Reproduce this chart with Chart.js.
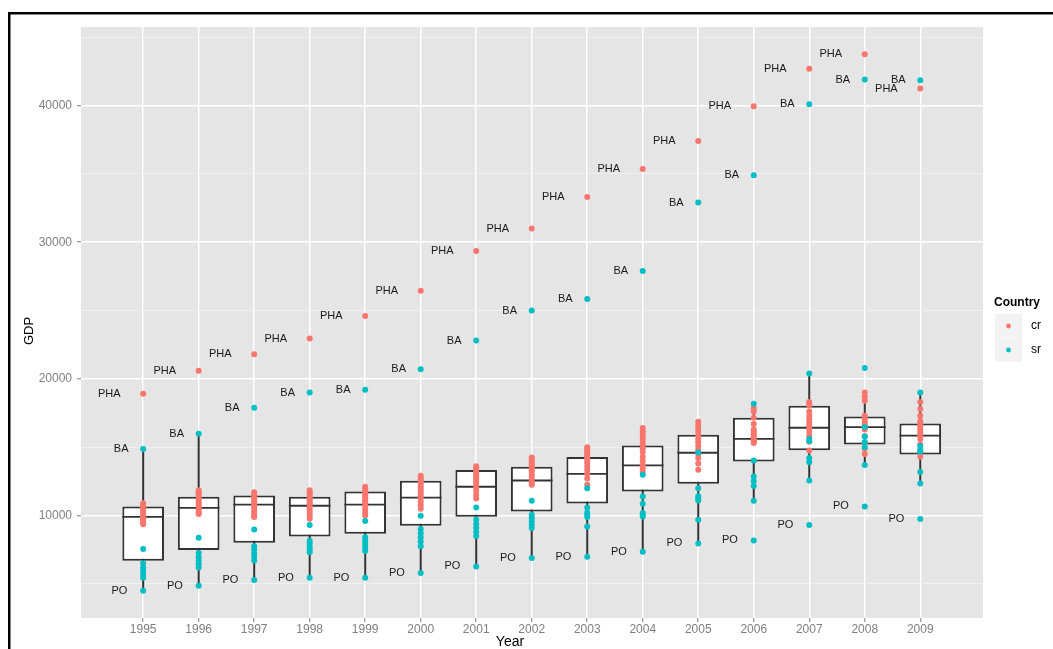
<!DOCTYPE html>
<html>
  <head>
    <meta charset="utf-8" />
    <title>GDP by region</title>
    <script src="https://cdn.jsdelivr.net/npm/chart.js"></script>
    <style>
      body {
        margin: 0;
        background: #ffffff;
      }
      #wrap {
        width: 1053px;
        height: 649px;
      }
    </style>
  </head>
  <body>
    <div id="wrap">
      <canvas id="gdpchart" width="1053" height="649"></canvas>
    </div>

    <script type="text/javascript">
      // ---------------------------------------------
      // data
      const years = [1995, 1996, 1997, 1998, 1999, 2000, 2001, 2002, 2003, 2004, 2005, 2006, 2007, 2008, 2009];

      // labelled regions
      const phaGDP = [18900, 20600, 21800, 22950, 24600, 26450, 29350, 31000, 33300, 35350, 37400, 39950, 42700, 43750, 41250];
      const baGDP = [14860, 15980, 17880, 19000, 19200, 20700, 22800, 25000, 25850, 27900, 32900, 34900, 40100, 41900, 41850];
      const poGDP = [4490, 4860, 5270, 5440, 5440, 5790, 6270, 6880, 6980, 7350, 7950, 8170, 9300, 10660, 9740];

      // other cr regions (13 per year)
      const crOther = [
        [10900, 10750, 10600, 10450, 10300, 10150, 10000, 9900, 9800, 9700, 9600, 9450, 9350],
        [11850, 11700, 11550, 11400, 11250, 11100, 10950, 10800, 10650, 10500, 10350, 10200, 10100],
        [11700, 11550, 11400, 11250, 11100, 10950, 10800, 10650, 10500, 10300, 10100, 9950, 9880],
        [11850, 11700, 11550, 11400, 11250, 11100, 10950, 10800, 10600, 10400, 10200, 10000, 9750],
        [12100, 11950, 11800, 11650, 11500, 11350, 11200, 11050, 10900, 10700, 10450, 10200, 10000],
        [12900, 12750, 12600, 12450, 12300, 12100, 11900, 11700, 11500, 11300, 11000, 10750, 10500],
        [13600, 13450, 13300, 13150, 13000, 12850, 12700, 12500, 12300, 12050, 11800, 11500, 11250],
        [14250, 14100, 13950, 13800, 13650, 13500, 13350, 13200, 13000, 12800, 12600, 12400, 12250],
        [15000, 14850, 14700, 14550, 14400, 14250, 14050, 13850, 13600, 13350, 13050, 12700, 12250],
        [16400, 16150, 15900, 15650, 15400, 15150, 14900, 14650, 14300, 14000, 13700, 13450, 13200],
        [16850, 16600, 16350, 16100, 15850, 15600, 15350, 15100, 14800, 14500, 14200, 13800, 13350],
        [17850, 17600, 17150, 16700, 16300, 16100, 15950, 15800, 15700, 15600, 15500, 15400, 15300],
        [18300, 18200, 18050, 17600, 17300, 17050, 16800, 16600, 16400, 16100, 15800, 15400, 14750],
        [19000, 18700, 18400, 17300, 17100, 16900, 16700, 16500, 16300, 15800, 15300, 14900, 14500],
        [18300, 17800, 17300, 16900, 16700, 16500, 16300, 16100, 15900, 15600, 15200, 14700, 14300],
      ];

      // other sr regions (6 per year)
      const srOther = [
        [7540, 6500, 6200, 5950, 5700, 5450],
        [8370, 7250, 6950, 6700, 6450, 6200],
        [8980, 7750, 7500, 7250, 7000, 6700],
        [9300, 8150, 7950, 7700, 7500, 7300],
        [9590, 8400, 8150, 7900, 7650, 7400],
        [9980, 9000, 8700, 8400, 8100, 7750],
        [10590, 9700, 9400, 9100, 8800, 8500],
        [11080, 10050, 9800, 9550, 9300, 9080],
        [12000, 10590, 10220, 10050, 9880, 9200],
        [12980, 11390, 10860, 10180, 10050, 9930],
        [14610, 12000, 11400, 11250, 11100, 9690],
        [18170, 14020, 12850, 12500, 12150, 11075],
        [20390, 15590, 15450, 14200, 13900, 12560],
        [20800, 16470, 15780, 15370, 15000, 13690],
        [19000, 15080, 14800, 14660, 13180, 12340],
      ];

      // box plot statistics
      const boxQ1 = [6690, 7470, 8000, 8460, 8660, 9250, 9900, 10290, 10880, 11760, 12320, 13950, 14780, 15190, 14460];
      const boxMedian = [9900, 10560, 10800, 10710, 10800, 11300, 12100, 12560, 13050, 13660, 14590, 15610, 16420, 16470, 15850];
      const boxQ3 = [10660, 11370, 11460, 11370, 11760, 12540, 13320, 13560, 14270, 15120, 15900, 17150, 18030, 17240, 16730];
      const whiskerLow = [4490, 4860, 5270, 5440, 5440, 5790, 6270, 6880, 6980, 7350, 7950, 11075, 12560, 13690, 12340];
      const whiskerHigh = [14860, 15980, 11700, 11880, 12100, 12900, 13600, 14250, 15000, 16400, 16850, 18170, 20390, 19000, 19000];

      const yTicks = [5000, 10000, 15000, 20000, 25000, 30000, 35000, 40000, 45000];

      const crColor = "#F8766D";
      const srColor = "#00BFC4";
      const fontFam = "'Liberation Sans', Arial, sans-serif";

      // ---------------------------------------------
      // build datasets
      var crPoints = [];
      var srPoints = [];
      var boxes = [];
      var whiskers = [];
      years.forEach(function (yr, i) {
        crPoints.push({ x: yr, y: phaGDP[i] });
        crOther[i].forEach(function (v) {
          crPoints.push({ x: yr, y: v });
        });
        srPoints.push({ x: yr, y: baGDP[i] });
        srOther[i].forEach(function (v) {
          srPoints.push({ x: yr, y: v });
        });
        srPoints.push({ x: yr, y: poGDP[i] });
        boxes.push({ x: yr, y: [boxQ1[i], boxQ3[i]] });
        whiskers.push({ x: yr, y: whiskerLow[i] });
        whiskers.push({ x: yr, y: whiskerHigh[i] });
        whiskers.push({ x: yr, y: null });
      });

      // ---------------------------------------------
      // grey panel + frame round the picture
      const panelPlugin = {
        id: "panel",
        beforeDraw(chart) {
          const ctx = chart.ctx;
          const a = chart.chartArea;
          ctx.save();
          ctx.fillStyle = "#ffffff";
          ctx.fillRect(0, 0, chart.width, chart.height);
          ctx.fillStyle = "#000000";
          ctx.fillRect(8, 12, chart.width - 8, 2.5);
          ctx.fillRect(8, 12, 2.5, chart.height - 12);
          ctx.fillStyle = "#e5e5e5";
          ctx.fillRect(a.left, a.top, a.right - a.left, a.bottom - a.top);
          ctx.restore();
        },
      };

      // median line inside each box
      const medianPlugin = {
        id: "median",
        afterDatasetDraw(chart, args) {
          if (args.index !== 1) return;
          const ctx = chart.ctx;
          const ys = chart.scales.y;
          ctx.save();
          ctx.strokeStyle = "#333333";
          ctx.lineWidth = 1.8;
          args.meta.data.forEach(function (bar, i) {
            const py = ys.getPixelForValue(boxMedian[i]);
            ctx.beginPath();
            ctx.moveTo(bar.x - bar.width / 2, py);
            ctx.lineTo(bar.x + bar.width / 2, py);
            ctx.stroke();
          });
          ctx.restore();
        },
      };

      // PHA / BA / PO text beside the points
      const labelPlugin = {
        id: "regionLabels",
        afterDatasetsDraw(chart) {
          const ctx = chart.ctx;
          const xs = chart.scales.x;
          const ys = chart.scales.y;
          ctx.save();
          ctx.font = "11px " + fontFam;
          ctx.fillStyle = "#1a1a1a";
          ctx.textAlign = "left";
          ctx.textBaseline = "middle";
          years.forEach(function (yr, i) {
            [
              ["PHA", phaGDP[i]],
              ["BA", baGDP[i]],
              ["PO", poGDP[i]],
            ].forEach(function (lab) {
              const w = ctx.measureText(lab[0]).width;
              ctx.fillText(lab[0], xs.getPixelForValue(yr) - 2 * w, ys.getPixelForValue(lab[1]));
            });
          });
          ctx.restore();
        },
      };

      // axis titles and the Country legend
      const annotPlugin = {
        id: "annot",
        afterDraw(chart) {
          const ctx = chart.ctx;
          ctx.save();
          ctx.fillStyle = "#000000";
          ctx.textAlign = "center";
          ctx.textBaseline = "middle";
          ctx.font = "14px " + fontFam;
          ctx.fillText("Year", 510, 642);
          ctx.translate(29, 331);
          ctx.rotate(-Math.PI / 2);
          ctx.font = "13px " + fontFam;
          ctx.fillText("GDP", 0, 0);
          ctx.restore();

          ctx.save();
          ctx.textBaseline = "middle";
          ctx.textAlign = "left";
          ctx.fillStyle = "#000000";
          ctx.font = "bold 12px " + fontFam;
          ctx.fillText("Country", 994, 302.5);
          [
            ["cr", crColor, 326],
            ["sr", srColor, 350],
          ].forEach(function (k) {
            ctx.fillStyle = "#f2f2f2";
            ctx.fillRect(995, k[2] - 12, 27, 23.5);
            ctx.fillStyle = k[1];
            ctx.beginPath();
            ctx.arc(1008.5, k[2], 2.4, 0, 2 * Math.PI);
            ctx.fill();
            ctx.fillStyle = "#000000";
            ctx.font = "12px " + fontFam;
            ctx.fillText(k[0], 1031, k[2]);
          });
          ctx.restore();
        },
      };

      // ---------------------------------------------
      const chartConfig = {
        data: {
          datasets: [
            {
              type: "line",
              label: "whiskers",
              data: whiskers,
              borderColor: "#333333",
              borderWidth: 2,
              pointRadius: 0,
              spanGaps: false,
              order: 3,
            },
            {
              type: "bar",
              label: "box",
              data: boxes,
              backgroundColor: "#ffffff",
              borderColor: "#333333",
              borderWidth: 2,
              borderSkipped: false,
              categoryPercentage: 1,
              barPercentage: 0.75,
              order: 2,
            },
            {
              type: "scatter",
              label: "cr",
              data: crPoints,
              backgroundColor: crColor,
              borderWidth: 0,
              pointRadius: 3,
              order: 1,
            },
            {
              type: "scatter",
              label: "sr",
              data: srPoints,
              backgroundColor: srColor,
              borderWidth: 0,
              pointRadius: 3,
              order: 0,
            },
          ],
        },
        options: {
          responsive: false,
          animation: false,
          events: [],
          layout: {
            padding: { top: 27, right: 70, bottom: 0, left: 0 },
          },
          plugins: {
            legend: { display: false },
            tooltip: { enabled: false },
          },
          scales: {
            x: {
              type: "linear",
              min: 1993.88,
              max: 2010.13,
              offset: false,
              afterBuildTicks: function (s) {
                s.ticks = years.map(function (v) {
                  return { value: v };
                });
              },
              afterFit: function (s) {
                s.height = 31;
              },
              ticks: {
                autoSkip: false,
                maxRotation: 0,
                padding: 0,
                color: "#7f7f7f",
                font: { family: fontFam, size: 12 },
                callback: function (v) {
                  return String(v);
                },
              },
              grid: {
                offset: false,
                color: "#ffffff",
                lineWidth: 1.5,
                tickColor: "#7f7f7f",
                tickLength: 4,
                tickWidth: 1,
              },
              border: { display: false },
            },
            y: {
              type: "linear",
              min: 2495,
              max: 45750,
              afterBuildTicks: function (s) {
                s.ticks = yTicks.map(function (v) {
                  return { value: v };
                });
              },
              afterFit: function (s) {
                s.width = 81;
              },
              ticks: {
                autoSkip: false,
                padding: 5,
                color: "#7f7f7f",
                font: { family: fontFam, size: 12 },
                callback: function (v) {
                  return v % 10000 === 0 ? String(v) : "";
                },
              },
              grid: {
                color: function (c) {
                  return c.tick && c.tick.value % 10000 === 0 ? "#ffffff" : "#f2f2f2";
                },
                lineWidth: function (c) {
                  return c.tick && c.tick.value % 10000 === 0 ? 1.5 : 0.8;
                },
                tickColor: function (c) {
                  return c.tick && c.tick.value % 10000 === 0 ? "#7f7f7f" : "rgba(0,0,0,0)";
                },
                tickLength: 4,
                tickWidth: 1,
              },
              border: { display: false },
            },
          },
        },
        plugins: [panelPlugin, medianPlugin, labelPlugin, annotPlugin],
      };

      var gdpChart = new Chart(document.getElementById("gdpchart"), chartConfig);
    </script>
  </body>
</html>
